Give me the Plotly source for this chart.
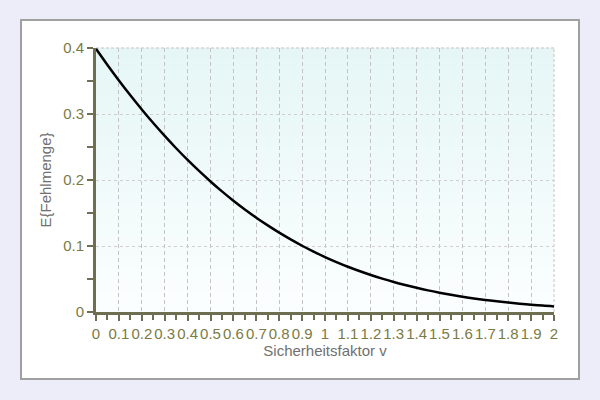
import plotly.graph_objects as go

# Data (E{Fehlmenge} vs Sicherheitsfaktor v)
v_values = [0.00, 0.05, 0.10, 0.15, 0.20, 0.25, 0.30, 0.35, 0.40, 0.45,
            0.50, 0.55, 0.60, 0.65, 0.70, 0.75, 0.80, 0.85, 0.90, 0.95,
            1.00, 1.05, 1.10, 1.15, 1.20, 1.25, 1.30, 1.35, 1.40, 1.45,
            1.50, 1.55, 1.60, 1.65, 1.70, 1.75, 1.80, 1.85, 1.90, 1.95, 2.00]
fehlmenge = [0.3989, 0.3744, 0.3509, 0.3284, 0.3069, 0.2863, 0.2668, 0.2481, 0.2304, 0.2137,
             0.1978, 0.1828, 0.1687, 0.1554, 0.1429, 0.1312, 0.1202, 0.1100, 0.1004, 0.0916,
             0.0833, 0.0757, 0.0686, 0.0621, 0.0561, 0.0506, 0.0455, 0.0409, 0.0367, 0.0328,
             0.0293, 0.0261, 0.0232, 0.0206, 0.0183, 0.0162, 0.0143, 0.0126, 0.0111, 0.0097, 0.0085]

x_tickvals = [0, 0.1, 0.2, 0.3, 0.4, 0.5, 0.6, 0.7, 0.8, 0.9, 1.0,
              1.1, 1.2, 1.3, 1.4, 1.5, 1.6, 1.7, 1.8, 1.9, 2.0]
x_ticktext = ["0", "0.1", "0.2", "0.3", "0.4", "0.5", "0.6", "0.7", "0.8", "0.9", "1",
              "1.1", "1.2", "1.3", "1.4", "1.5", "1.6", "1.7", "1.8", "1.9", "2"]
y_tickvals = [0, 0.1, 0.2, 0.3, 0.4]
y_ticktext = ["0", "0.1", "0.2", "0.3", "0.4"]

W, H = 600, 400
ML, MR, MT, MB = 96, 46, 48, 88
pw, ph = W - ML - MR, H - MT - MB

def px2paper_x(px):
    return (px - ML) / pw

def px2paper_y(py):
    return 1 - (py - MT) / ph

shapes = []
# white panel with gray border
shapes.append(dict(type="rect", xref="paper", yref="paper",
                   x0=px2paper_x(21), x1=px2paper_x(579),
                   y0=px2paper_y(379), y1=px2paper_y(20),
                   fillcolor="white", line=dict(color="#a0a0a0", width=2), layer="below"))
# vertical gradient in plot area
n = 24
top = (0xe6, 0xf6, 0xf6)
bot = (0xfb, 0xfe, 0xfe)
for i in range(n):
    t = i / (n - 1)
    c = tuple(round(top[k] + (bot[k] - top[k]) * t) for k in range(3))
    shapes.append(dict(type="rect", xref="paper", yref="paper",
                       x0=0, x1=1, y0=1 - (i + 1) / n, y1=1 - i / n + 0.001,
                       fillcolor="rgb(%d,%d,%d)" % c, line=dict(width=0), layer="below"))
# top and right dashed border lines of plot area
shapes.append(dict(type="line", xref="paper", yref="paper", x0=0, x1=1, y0=1, y1=1,
                   line=dict(color="#c4c4c4", width=1, dash="3px,2px"), layer="below"))
shapes.append(dict(type="line", xref="paper", yref="paper", x0=1, x1=1, y0=0, y1=1,
                   line=dict(color="#c4c4c4", width=1, dash="3px,2px"), layer="below"))

fig = go.Figure()
fig.add_trace(go.Scatter(x=v_values, y=fehlmenge, mode="lines",
                         line=dict(color="black", width=2.5, shape="spline"),
                         showlegend=False, hoverinfo="skip"))

tickfont = dict(family="Liberation Sans, Arial, sans-serif", size=15, color="#7a7a45")
titlefont = dict(family="Liberation Sans, Arial, sans-serif", size=15, color="#707070")

fig.update_layout(
    width=W, height=H,
    margin=dict(l=ML, r=MR, t=MT, b=MB, autoexpand=False),
    paper_bgcolor="#ededf9",
    plot_bgcolor="rgba(0,0,0,0)",
    shapes=shapes,
    showlegend=False,
)
fig.update_xaxes(
    range=[0, 2], tickmode="array", tickvals=x_tickvals, ticktext=x_ticktext,
    tickangle=0, tickfont=tickfont,
    ticks="outside", ticklen=6, tickwidth=2, tickcolor="#6e6e50",
    minor=dict(dtick=0.05, ticks="outside", ticklen=5, tickwidth=2, tickcolor="#6e6e50",
               showgrid=False),
    showline=True, linecolor="#6e6e50", linewidth=3,
    showgrid=True, gridcolor="#c4c4c4", gridwidth=1, griddash="4px,3px",
    zeroline=False,
    title=dict(text="Sicherheitsfaktor v", font=titlefont, standoff=4),
    automargin=False,
)
fig.update_yaxes(
    range=[0, 0.4], tickmode="array", tickvals=y_tickvals, ticktext=y_ticktext,
    tickfont=tickfont,
    ticks="outside", ticklen=6, tickwidth=2, tickcolor="#6e6e50",
    minor=dict(dtick=0.05, ticks="outside", ticklen=6, tickwidth=2, tickcolor="#6e6e50",
               showgrid=False),
    showline=True, linecolor="#6e6e50", linewidth=3,
    showgrid=True, gridcolor="#cfcfcf", gridwidth=1, griddash="dot",
    zeroline=False,
    title=dict(text="E{Fehlmenge}", font=titlefont, standoff=8),
    automargin=False,
)

fig.write_html("out.html",
               config={"displayModeBar": False, "staticPlot": True},
               post_script="document.body.style.margin='0';document.body.style.overflow='hidden';")
